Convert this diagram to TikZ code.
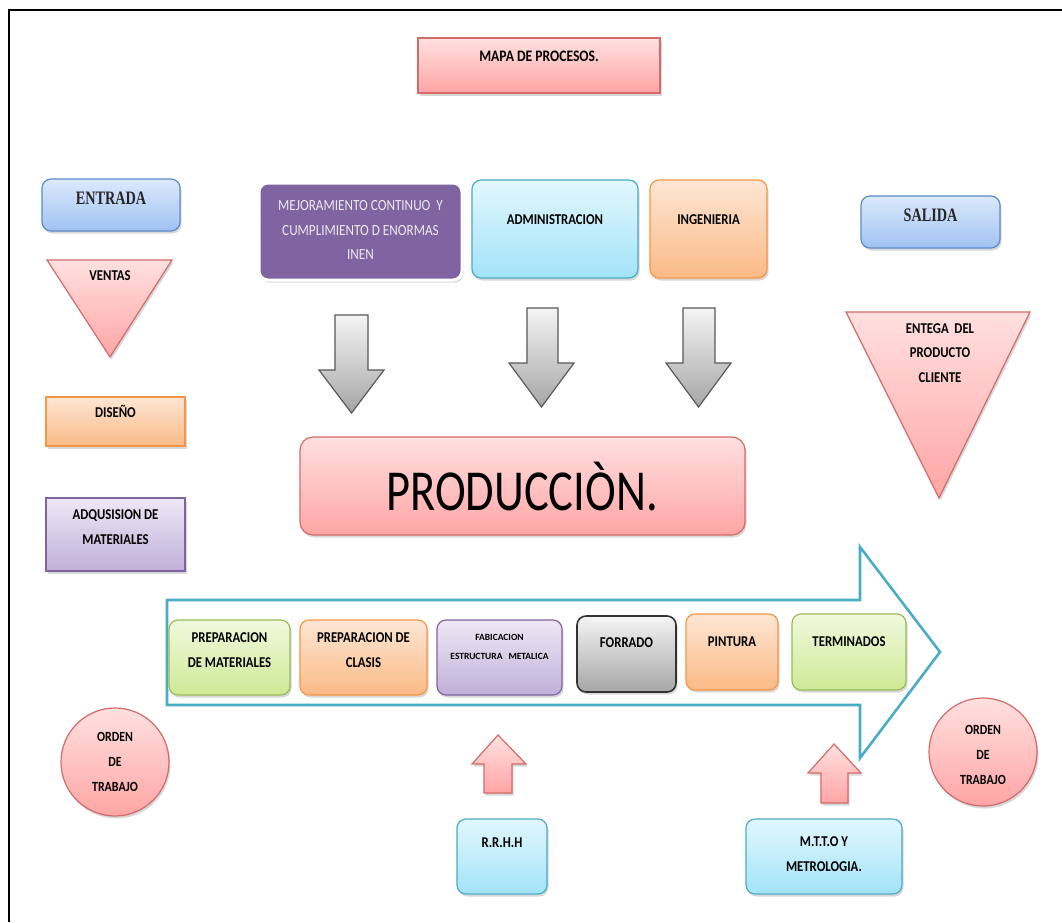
\documentclass[tikz,border=0pt]{standalone}
\usepackage{fontspec}
\setmainfont{Carlito}
\newfontfamily\lblf[FakeStretch=0.85]{Carlito}
\newfontfamily\serf[FakeStretch=0.75]{Liberation Serif}
\newfontfamily\bigf[FakeStretch=0.8]{Carlito}
\usetikzlibrary{shadows}
\definecolor{pinkT}{HTML}{FFE0E0}
\definecolor{pinkB}{HTML}{FFA5A5}
\definecolor{pinkD}{HTML}{D46A6A}
\definecolor{blueT}{HTML}{DCE9FB}
\definecolor{blueB}{HTML}{A0C2F2}
\definecolor{blueD}{HTML}{5B8BC9}
\definecolor{orT}{HTML}{FDE6D4}
\definecolor{orB}{HTML}{FBBA86}
\definecolor{orD}{HTML}{F79646}
\definecolor{puT}{HTML}{EEE8F5}
\definecolor{puB}{HTML}{C0AFD8}
\definecolor{puD}{HTML}{8064A2}
\definecolor{cyT}{HTML}{E2F7FD}
\definecolor{cyB}{HTML}{A2E3F7}
\definecolor{cyD}{HTML}{4BACC6}
\definecolor{grT}{HTML}{F1F8DE}
\definecolor{grB}{HTML}{CDEA95}
\definecolor{grD}{HTML}{9BBB59}
\definecolor{gyT}{HTML}{F4F4F4}
\definecolor{gyB}{HTML}{A6A6A6}
\definecolor{gyD}{HTML}{595959}
\tikzset{
  shd/.style={drop shadow={shadow xshift=1.5pt,shadow yshift=-2.5pt,opacity=0.3}},
  pinkfill/.style={top color=pinkT,bottom color=pinkB,draw=pinkD},
  bluefill/.style={top color=blueT,bottom color=blueB,draw=blueD},
  orfill/.style={top color=orT,bottom color=orB,draw=orD},
  pufill/.style={top color=puT,bottom color=puB,draw=puD},
  cyfill/.style={top color=cyT,bottom color=cyB,draw=cyD},
  grfill/.style={top color=grT,bottom color=grB,draw=grD},
  gyfill/.style={top color=gyT,bottom color=gyB,draw=gyD},
  sbox/.style={rectangle,line width=1.2pt,shd,inner sep=0pt},
  rbox/.style={sbox,rounded corners=9pt},
  circ/.style={circle,line width=1.2pt,shd,inner sep=0pt,minimum size=108pt},
  lbl/.style={font=\lblf\bfseries\fontsize{15}{24.5}\selectfont,align=center,text=black,inner sep=0pt},
  serlbl/.style={font=\serf\bfseries\fontsize{19}{22}\selectfont,text=black!85,inner sep=0pt},
  grayarrow/.style={gyfill,line width=1.2pt,line join=miter},
  pinkarrow/.style={pinkfill,line width=1.2pt,line join=miter,shd},
  bigarrow/.style={draw=cyD,line width=2.6pt,fill=white,line join=miter},
}
\begin{document}
\begin{tikzpicture}[x=1pt,y=-1pt]
\useasboundingbox (0,0) rectangle (1062,922);
\fill[white] (0,0) rectangle (1062,922);
% frame
\draw[line width=2.6pt] (9,922) -- (9,10) -- (1062,10);

% title
\node[sbox,pinkfill,minimum width=242pt,minimum height=55pt] (title) at (539,65.5) {};
\node[lbl,font=\lblf\bfseries\fontsize{16}{24}\selectfont] (t-title) at (539,56) {MAPA DE PROCESOS.};

% left column
\node[rbox,bluefill,minimum width=138pt,minimum height=52pt] (entrada) at (111,205) {};
\node[serlbl] (t-entrada) at (111,198) {ENTRADA};
\path[pinkfill,line width=1.2pt,shd] (47,260) -- (172,260) -- (110,357) -- cycle;
\node[lbl] (t-ventas) at (110,276) {VENTAS};
\node[sbox,orfill,minimum width=139pt,minimum height=49pt] (diseno) at (115.5,421.5) {};
\node[lbl] (t-diseno) at (115.5,411) {DISEÑO};
\node[sbox,pufill,minimum width=139pt,minimum height=73pt] (adq) at (115.5,534.5) {};
\node[lbl] (t-adq) at (115.5,527) {ADQUSISION DE\\MATERIALES};

% top row
\node[rbox,fill=puD,draw=white,line width=3pt,minimum width=203pt,minimum height=97pt] (mejora) at (360.5,231.5) {};
\node[lbl,font=\lblf\fontsize{15.5}{24.5}\selectfont,text=white!92!black] (t-mejora) at (360.5,230) {MEJORAMIENTO CONTINUO\ \ Y\\CUMPLIMIENTO D ENORMAS\\INEN};
\node[rbox,cyfill,minimum width=166pt,minimum height=98pt] (admin) at (555,229) {};
\node[lbl] (t-admin) at (555,220) {ADMINISTRACION};
\node[rbox,orfill,minimum width=117pt,minimum height=98pt] (ing) at (708.5,229) {};
\node[lbl] (t-ing) at (708.5,220) {INGENIERIA};

% right column
\node[rbox,bluefill,minimum width=139pt,minimum height=52pt] (salida) at (930.5,222) {};
\node[serlbl] (t-salida) at (930.5,215) {SALIDA};
\path[pinkfill,line width=1.2pt,shd] (846,312) -- (1030,312) -- (939,498) -- cycle;
\node[lbl] (t-entrega) at (940,353) {ENTEGA\ \ DEL\\PRODUCTO\\CLIENTE};

% gray arrows
\path[grayarrow] (335,315) -- (368,315) -- (368,370) -- (384,370) -- (351.5,413) -- (319,370) -- (335,370) -- cycle;
\path[grayarrow] (527,308) -- (558,308) -- (558,363) -- (574,363) -- (541.5,407) -- (509,363) -- (527,363) -- cycle;
\path[grayarrow] (683,308) -- (715,308) -- (715,363) -- (731,363) -- (698.5,407) -- (666,363) -- (683,363) -- cycle;

% production
\node[rbox,pinkfill,rounded corners=13pt,minimum width=445pt,minimum height=98pt] (prod) at (522.5,486) {};
\node[inner sep=0pt,font=\bigf\fontsize{58}{60}\selectfont] (t-prod) at (522,486) {PRODUCCIÒN.};

% big process arrow
\path[bigarrow] (167,600) -- (860,600) -- (860,547) -- (940,652) -- (860,758) -- (860,705) -- (167,705) -- cycle;

% process steps
\node[rbox,grfill,minimum width=121pt,minimum height=75pt] (p1) at (229.5,657.5) {};
\node[lbl] (t-p1) at (229.5,650) {PREPARACION\\DE MATERIALES};
\node[rbox,orfill,minimum width=127pt,minimum height=75pt] (p2) at (363.5,657.5) {};
\node[lbl] (t-p2) at (363.5,650) {PREPARACION DE\\CLASIS};
\node[rbox,pufill,minimum width=125pt,minimum height=75pt] (p3) at (499.5,657.5) {};
\node[lbl,font=\bfseries\fontsize{9.5}{19}\selectfont] (t-p3) at (499.5,647) {FABICACION\\ESTRUCTURA\hspace{6pt}METALICA};
\node[rbox,gyfill,draw=black!80,line width=1.6pt,minimum width=99pt,minimum height=76pt] (p4) at (626.5,654) {};
\node[lbl] (t-p4) at (626.5,643) {FORRADO};
\node[rbox,orfill,minimum width=92pt,minimum height=76pt] (p5) at (732,652) {};
\node[lbl] (t-p5) at (732,642) {PINTURA};
\node[rbox,grfill,minimum width=114pt,minimum height=76pt] (p6) at (849,652) {};
\node[lbl] (t-p6) at (849,642) {TERMINADOS};

% order circles
\node[circ,pinkfill] (ordL) at (115,762) {};
\node[lbl,font=\lblf\bfseries\fontsize{14}{25}\selectfont] (t-ordL) at (115,762) {ORDEN\\DE\\TRABAJO};
\node[circ,pinkfill] (ordR) at (983,752) {};
\node[lbl,font=\lblf\bfseries\fontsize{14}{25}\selectfont] (t-ordR) at (983,755) {ORDEN\\DE\\TRABAJO};

% pink up arrows
\path[pinkarrow] (484,793) -- (484,764) -- (472,764) -- (498,735) -- (526,764) -- (512,764) -- (512,793) -- cycle;
\path[pinkarrow] (821,803) -- (821,773) -- (808,773) -- (834,744) -- (861,773) -- (848,773) -- (848,803) -- cycle;

% bottom boxes
\node[rbox,cyfill,minimum width=90pt,minimum height=75pt] (rrhh) at (502,856.5) {};
\node[lbl] (t-rrhh) at (502,843) {R.R.H.H};
\node[rbox,cyfill,minimum width=156pt,minimum height=75pt] (mtto) at (824,856.5) {};
\node[lbl] (t-mtto) at (824,854) {M.T.T.O Y\\METROLOGIA.};
\end{tikzpicture}
\end{document}
